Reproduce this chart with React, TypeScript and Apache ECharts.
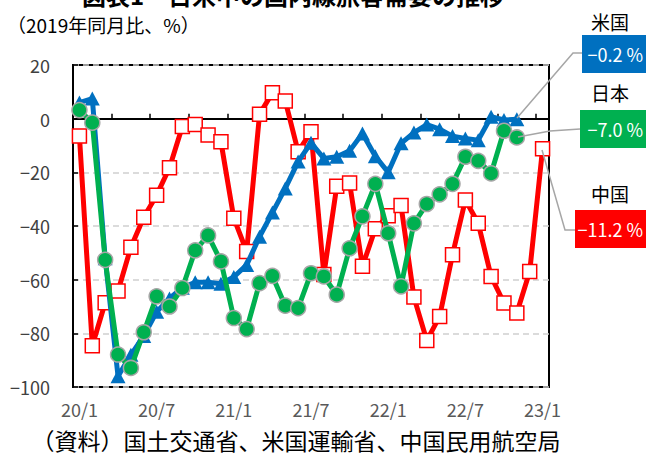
import React, { useEffect, useRef } from "react";
import * as echarts from "echarts";

const categories = [
  "20/1", "20/2", "20/3", "20/4", "20/5", "20/6", "20/7", "20/8", "20/9", "20/10", "20/11", "20/12",
  "21/1", "21/2", "21/3", "21/4", "21/5", "21/6", "21/7", "21/8", "21/9", "21/10", "21/11", "21/12",
  "22/1", "22/2", "22/3", "22/4", "22/5", "22/6", "22/7", "22/8", "22/9", "22/10", "22/11", "22/12",
  "23/1",
];

const china = [
  -6.5, -84.6, -68.6, -64.2, -47.9, -36.7, -28.5, -18.3, -2.9, -2.2, -6.1, -8.6,
  -37.1, -49.5, 1.6, 9.7, 6.6, -12.3, -4.9, -58.1, -25.2, -24.0, -55.0, -41.0,
  -36.2, -32.4, -66.5, -82.7, -73.7, -50.7, -30.3, -39.0, -58.8, -68.7, -72.4, -57.0,
  -11.2,
];

const japan = [
  3.2, -1.5, -52.6, -87.9, -92.9, -79.6, -66.2, -70.0, -63.1, -49.1, -43.5, -53.2,
  -74.3, -78.4, -61.3, -58.6, -69.7, -70.6, -57.6, -58.8, -65.6, -48.3, -36.4, -24.3,
  -42.7, -62.5, -39.0, -31.8, -28.2, -24.3, -14.2, -15.7, -20.4, -4.5, -7.0,
];

const usa = [
  6.0, 7.5, -52.0, -96.0, -88.0, -81.0, -72.0, -67.0, -63.0, -61.0, -61.0, -61.5,
  -59.0, -54.5, -44.0, -35.0, -26.0, -16.0, -9.0, -14.8, -14.2, -12.0, -5.5, -14.0,
  -20.0, -9.2, -5.2, -2.2, -3.9, -6.5, -7.4, -8.0, 0.7, -0.5, -0.2,
];

const countryNames = ["米国", "日本", "中国"];
const latestLabels = ["−0.2 %", "−7.0 %", "−11.2 %"];

const TITLE = "図表1　日米中の国内線旅客需要の推移";
const SUBTITLE = "（2019年同月比、%）";
const SOURCE = "（資料）国土交通省、米国運輸省、中国民用航空局";

const CJK = "'Noto Sans CJK JP', 'Noto Sans', sans-serif";

export default function App() {
  const ref = useRef<HTMLDivElement>(null);

  useEffect(() => {
    if (!ref.current) return;
    const chart = echarts.init(ref.current, undefined, { renderer: "svg" });

    const boxes = [
      { name: countryNames[0], label: latestLabels[0], color: "#0070c0", nameY: 21, boxX: 582, boxY: 35 },
      { name: countryNames[1], label: latestLabels[1], color: "#00b050", nameY: 92, boxX: 580, boxY: 110 },
      { name: countryNames[2], label: latestLabels[2], color: "#ff0000", nameY: 193, boxX: 575, boxY: 210 },
    ];

    const graphics: any[] = [
      {
        type: "text",
        style: {
          text: TITLE,
          x: 293,
          y: -6,
          textAlign: "center",
          textVerticalAlign: "middle",
          font: `bold 24px ${CJK}`,
          fill: "#000",
        },
      },
      {
        type: "text",
        style: {
          text: SUBTITLE,
          x: 7,
          y: 24,
          textAlign: "left",
          textVerticalAlign: "middle",
          font: `19px ${CJK}`,
          fill: "#000",
        },
      },
      {
        type: "text",
        style: {
          text: SOURCE,
          x: 296,
          y: 440,
          textAlign: "center",
          textVerticalAlign: "middle",
          font: `23px ${CJK}`,
          fill: "#000",
        },
      },
      // leader lines
      {
        type: "polyline",
        shape: { points: [[517, 118], [573, 53], [582, 53]] },
        style: { stroke: "#a6a6a6", lineWidth: 1.5, fill: null },
        z: 10,
      },
      {
        type: "polyline",
        shape: { points: [[518, 137], [550, 131], [580, 129]] },
        style: { stroke: "#a6a6a6", lineWidth: 1.5, fill: null },
        z: 10,
      },
      {
        type: "polyline",
        shape: { points: [[542, 150], [565, 230], [575, 230]] },
        style: { stroke: "#a6a6a6", lineWidth: 1.5, fill: null },
        z: 10,
      },
    ];

    boxes.forEach((b) => {
      graphics.push({
        type: "text",
        style: {
          text: b.name,
          x: 610,
          y: b.nameY,
          textAlign: "center",
          textVerticalAlign: "middle",
          font: `19px ${CJK}`,
          fill: "#000",
        },
      });
      graphics.push({
        type: "rect",
        shape: { x: b.boxX, y: b.boxY, width: 646 - b.boxX, height: 38 },
        style: { fill: b.color },
        z: 10,
      });
      graphics.push({
        type: "text",
        style: {
          text: b.label,
          x: 643,
          y: b.boxY + 19,
          textAlign: "right",
          textVerticalAlign: "middle",
          font: `18px ${CJK}`,
          fill: "#fff",
        },
        z: 11,
      });
    });

    chart.setOption({
      animation: false,
      backgroundColor: "#fff",
      grid: {
        left: 73,
        right: 97,
        top: 65,
        bottom: 70,
        show: true,
        borderColor: "#000",
        borderWidth: 2,
        backgroundColor: "transparent",
      },
      xAxis: {
        type: "category",
        data: categories,
        boundaryGap: true,
        axisLine: { show: true, lineStyle: { color: "#000", width: 2 } },
        axisTick: { show: true, inside: true, interval: 2, length: 5, lineStyle: { color: "#000", width: 1.5 } },
        axisLabel: {
          interval: 5,
          margin: 13,
          color: "#595959",
          fontSize: 18,
          fontFamily: CJK,
        },
        splitLine: { show: false },
      },
      yAxis: {
        type: "value",
        min: -100,
        max: 20,
        interval: 20,
        axisLine: { show: true, lineStyle: { color: "#000", width: 2 } },
        axisTick: { show: true, inside: true, length: 5, lineStyle: { color: "#000", width: 1.5 } },
        axisLabel: {
          margin: 23,
          color: "#404040",
          fontSize: 18,
          fontFamily: CJK,
          formatter: (v: number) => String(v).replace("-", "−"),
        },
        splitLine: { show: true, lineStyle: { color: "#d0d0d0", type: [6, 4], width: 1.5 } },
      },
      series: [
        {
          name: countryNames[2],
          type: "line",
          data: china,
          symbol: "rect",
          symbolSize: 14,
          showSymbol: true,
          showAllSymbol: true,
          lineStyle: { color: "#ff0000", width: 5 },
          itemStyle: { color: "#ffffff", borderColor: "#ff0000", borderWidth: 1.5 },
          z: 2,
        },
        {
          name: countryNames[0],
          type: "line",
          data: usa,
          symbol: "triangle",
          symbolSize: [15, 14],
          showSymbol: true,
          showAllSymbol: true,
          lineStyle: { color: "#0070c0", width: 5 },
          itemStyle: { color: "#0070c0" },
          z: 3,
        },
        {
          name: countryNames[1],
          type: "line",
          data: japan,
          symbol: "circle",
          symbolSize: 15,
          showSymbol: true,
          showAllSymbol: true,
          lineStyle: { color: "#00b050", width: 5 },
          itemStyle: { color: "#00b050", borderColor: "#a6a6a6", borderWidth: 1.5 },
          z: 4,
        },
      ],
      graphic: graphics,
    });

    return () => chart.dispose();
  }, []);

  return (
    <div
      ref={ref}
      style={{ position: "fixed", left: 0, top: 0, width: 646, height: 457, background: "#fff" }}
    />
  );
}
